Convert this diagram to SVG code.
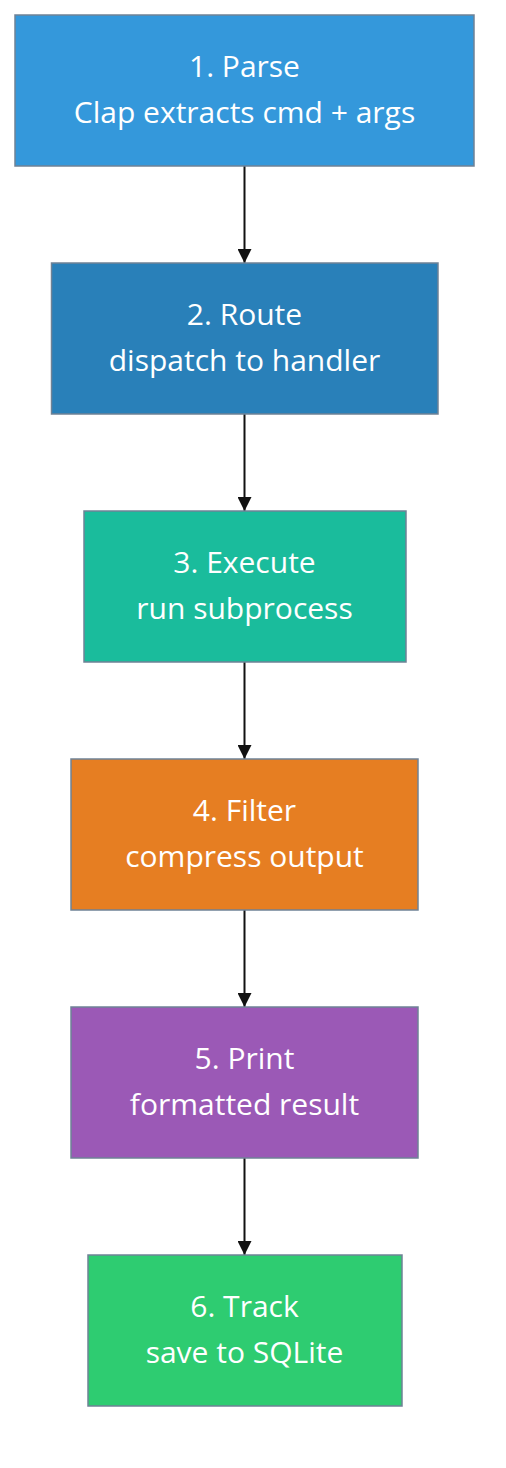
<svg xmlns="http://www.w3.org/2000/svg" width="506" height="1468" viewBox="0 0 506 1468">
<style>
.box{stroke:#6f8296;stroke-width:1.5}
.t{font-family:"Open Sans","DejaVu Sans",sans-serif;font-size:30px;font-weight:500;fill:#ffffff;text-anchor:middle}
.edge{stroke:#111111;stroke-width:2;fill:none}
</style>
<defs>
<marker id="ah" markerWidth="14" markerHeight="14" refX="14" refY="7" orient="auto" markerUnits="userSpaceOnUse">
<path d="M0,0 L14,7 L0,14 z" fill="#111111"/>
</marker>
</defs>
<rect width="506" height="1468" fill="#ffffff"/>
<g id="connectors">
<line class="edge" x1="244.5" y1="166" x2="244.5" y2="263" marker-end="url(#ah)"/>
<line class="edge" x1="244.5" y1="414" x2="244.5" y2="511" marker-end="url(#ah)"/>
<line class="edge" x1="244.5" y1="662" x2="244.5" y2="759" marker-end="url(#ah)"/>
<line class="edge" x1="244.5" y1="910" x2="244.5" y2="1007" marker-end="url(#ah)"/>
<line class="edge" x1="244.5" y1="1158" x2="244.5" y2="1255" marker-end="url(#ah)"/>
</g>
<g id="n1">
<rect class="box" x="15" y="15" width="459" height="151" fill="#3498db"/>
<text class="t" x="244.5" y="77">1. Parse</text>
<text class="t" x="244.5" y="123">Clap extracts cmd + args</text>
</g>
<g id="n2">
<rect class="box" x="51.5" y="263" width="386.5" height="151" fill="#2980b9"/>
<text class="t" x="244.5" y="325">2. Route</text>
<text class="t" x="244.5" y="371">dispatch to handler</text>
</g>
<g id="n3">
<rect class="box" x="84" y="511" width="322" height="151" fill="#1abc9c"/>
<text class="t" x="244.5" y="573">3. Execute</text>
<text class="t" x="244.5" y="619">run subprocess</text>
</g>
<g id="n4">
<rect class="box" x="71" y="759" width="347" height="151" fill="#e67e22"/>
<text class="t" x="244.5" y="821">4. Filter</text>
<text class="t" x="244.5" y="867">compress output</text>
</g>
<g id="n5">
<rect class="box" x="71" y="1007" width="347" height="151" fill="#9b59b6"/>
<text class="t" x="244.5" y="1069">5. Print</text>
<text class="t" x="244.5" y="1115">formatted result</text>
</g>
<g id="n6">
<rect class="box" x="88" y="1255" width="314" height="151" fill="#2ecc71"/>
<text class="t" x="244.5" y="1317">6. Track</text>
<text class="t" x="244.5" y="1363">save to SQLite</text>
</g>
</svg>
